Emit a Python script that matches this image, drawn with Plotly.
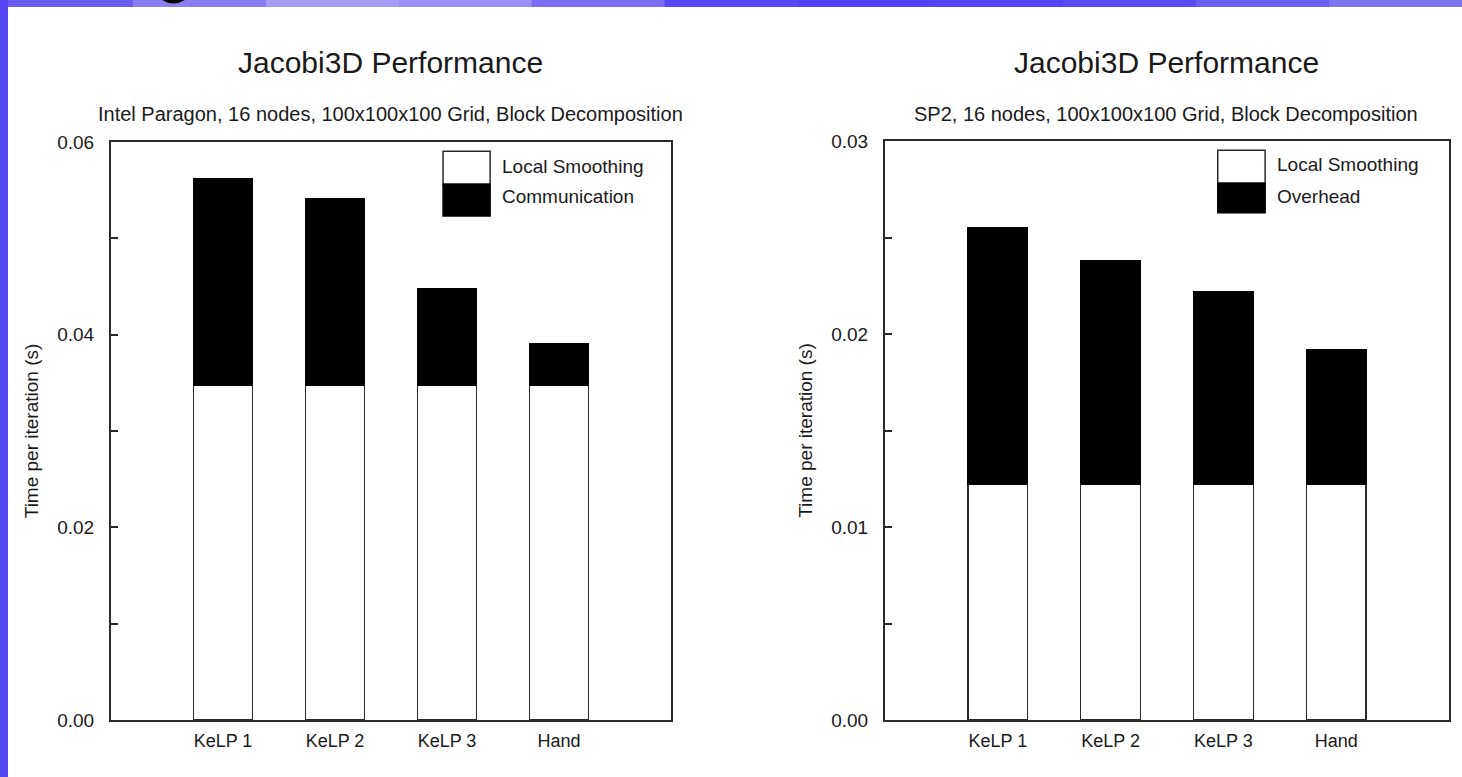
import plotly.graph_objects as go

# ---------------- data ----------------
categories = ["KeLP 1", "KeLP 2", "KeLP 3", "Hand"]

paragon_local = [0.0347, 0.0347, 0.0347, 0.0347]
paragon_comm = [0.0215, 0.0194, 0.0101, 0.0044]

sp2_local = [0.0122, 0.0122, 0.0122, 0.0122]
sp2_overhead = [0.0133, 0.0116, 0.0100, 0.0070]

left_ticks = [0.00, 0.01, 0.02, 0.03, 0.04, 0.05, 0.06]
left_ticktext = ["0.00", "", "0.02", "", "0.04", "", "0.06"]
right_ticks = [0.000, 0.005, 0.010, 0.015, 0.020, 0.025, 0.030]
right_ticktext = ["0.00", "", "0.01", "", "0.02", "", "0.03"]

titles = ["Jacobi3D Performance", "Jacobi3D Performance"]
subtitles = ["Intel Paragon, 16 nodes, 100x100x100 Grid, Block Decomposition",
             "SP2, 16 nodes, 100x100x100 Grid, Block Decomposition"]
legend_left = ["Local Smoothing", "Communication"]
legend_right = ["Local Smoothing", "Overhead"]
ytitle = "Time per iteration (s)"

# ---------------- figure ----------------
W, H = 1462, 777
FONT = "Liberation Sans, Arial, sans-serif"
TXT = "#1a1a1a"
EDGE = "#2a2a2a"

fig = go.Figure()

def add_pair(local, upper, upper_name, xa, ya):
    fig.add_trace(go.Bar(x=categories, y=local, name="Local Smoothing",
                         marker=dict(color="white", line=dict(color=EDGE, width=1.5)),
                         width=0.53, xaxis=xa, yaxis=ya, showlegend=False))
    fig.add_trace(go.Bar(x=categories, y=upper, name=upper_name,
                         marker=dict(color="black", line=dict(color="black", width=1.5)),
                         width=0.53, xaxis=xa, yaxis=ya, showlegend=False))

add_pair(paragon_local, paragon_comm, "Communication", "x", "y")
add_pair(sp2_local, sp2_overhead, "Overhead", "x2", "y2")

def px_x(p):
    return p / W

def px_y(p):
    return 1 - p / H

xdom1 = [px_x(111), px_x(671)]
xdom2 = [px_x(885), px_x(1449)]
ydom1 = [px_y(720), px_y(142)]
ydom2 = [px_y(720), px_y(141)]

axis_common = dict(showline=True, linecolor=EDGE, linewidth=2, mirror=True,
                   showgrid=False, zeroline=False, automargin=False)

xcommon = dict(axis_common, range=[-1, 4], ticks="", type="category",
               tickfont=dict(family=FONT, size=18, color=TXT), ticklabelstandoff=3)
ycommon = dict(axis_common, ticks="inside", ticklen=7, tickwidth=1.5, tickcolor=EDGE,
               tickfont=dict(family=FONT, size=19, color=TXT),
               title=dict(text=ytitle, font=dict(family=FONT, size=19, color=TXT), standoff=14),
               ticklabelstandoff=11)

fig.update_layout(
    width=W, height=H, autosize=False,
    margin=dict(l=0, r=0, t=0, b=0, pad=0),
    paper_bgcolor="white", plot_bgcolor="white",
    barmode="stack",
    font=dict(family=FONT, color=TXT),
    xaxis=dict(xcommon, domain=xdom1, anchor="y"),
    yaxis=dict(ycommon, domain=ydom1, anchor="x", range=[0, 0.06],
               tickvals=left_ticks, ticktext=left_ticktext),
    xaxis2=dict(xcommon, domain=xdom2, anchor="y2"),
    yaxis2=dict(ycommon, domain=ydom2, anchor="x2", range=[0, 0.03],
                tickvals=right_ticks, ticktext=right_ticktext),
)

# slide-like background bands (top and left)
top_colors = ["#6b5cf0", "#8a7ef2", "#a79cf4", "#9b90f3", "#7b6ef3", "#5848f5",
              "#5242f6", "#5444f6", "#5a4cf4", "#6a5ef1", "#7f75ef"]
n = len(top_colors)
for i, c in enumerate(top_colors):
    fig.add_shape(type="rect", xref="paper", yref="paper",
                  x0=i / n, x1=(i + 1) / n + 0.002, y0=px_y(7), y1=1.0,
                  fillcolor=c, line=dict(width=0), layer="below")
fig.add_shape(type="rect", xref="paper", yref="paper",
              x0=0, x1=px_x(8), y0=0, y1=1.0,
              fillcolor="#5646f2", line=dict(width=0), layer="below")
# bottom of a cut-off slide heading glyph
fig.add_shape(type="path", xref="paper", yref="paper",
              path=(f"M {px_x(162)},{px_y(0)} Q {px_x(173)},{px_y(7)} {px_x(185)},{px_y(0)} Z"),
              fillcolor="black", line=dict(width=0))

# titles
centers = [px_x(391), px_x(1166)]
for cx, t, s in zip(centers, titles, subtitles):
    fig.add_annotation(text=t, x=cx, y=px_y(62), xref="paper", yref="paper",
                       xanchor="center", yanchor="middle", showarrow=False,
                       font=dict(family=FONT, size=30, color=TXT))
    fig.add_annotation(text=s, x=cx, y=px_y(114), xref="paper", yref="paper",
                       xanchor="center", yanchor="middle", showarrow=False,
                       font=dict(family=FONT, size=20, color=TXT))

# custom legends (large swatches)
def add_legend(xa, ya, labels, sx0, sx1, sy, tx, ty):
    xr, yr = xa + " domain", ya + " domain"
    fig.add_shape(type="rect", xref=xr, yref=yr, x0=sx0, x1=sx1, y0=sy[1], y1=sy[0],
                  fillcolor="white", line=dict(color=EDGE, width=1.5))
    fig.add_shape(type="rect", xref=xr, yref=yr, x0=sx0, x1=sx1, y0=sy[2], y1=sy[1],
                  fillcolor="black", line=dict(color="black", width=1.5))
    for lab, yy in zip(labels, ty):
        fig.add_annotation(text=lab, x=tx, y=yy, xref=xr, yref=yr,
                           xanchor="left", yanchor="middle", showarrow=False,
                           font=dict(family=FONT, size=19, color=TXT))

add_legend("x", "y", legend_left, 0.593, 0.677, [0.984, 0.927, 0.872], 0.695, [0.957, 0.905])
add_legend("x2", "y2", legend_right, 0.590, 0.674, [0.984, 0.927, 0.876], 0.691, [0.959, 0.905])

post = ("document.body.style.margin='0';document.body.style.padding='0';"
        "document.body.style.overflow='hidden';"
        "var gd=document.getElementsByClassName('plotly-graph-div')[0];"
        "gd.style.position='fixed';gd.style.top='0px';gd.style.left='0px';")
fig.write_html("out.html", post_script=post,
               config={"displayModeBar": False, "responsive": False})
